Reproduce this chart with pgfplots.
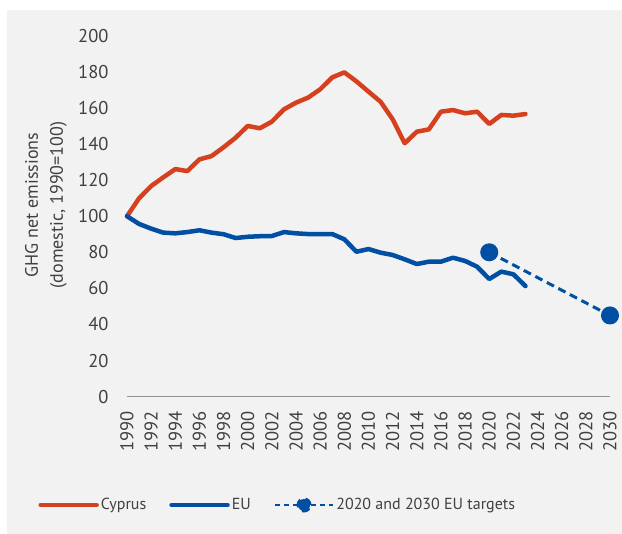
\documentclass[border=0pt]{standalone}
\usepackage{pgfplots}
\pgfplotsset{compat=1.18}
\usepackage{fontspec}
\setmainfont{PT Sans}
\definecolor{cyred}{RGB}{213,65,30}
\definecolor{eublue}{RGB}{0,79,163}
\definecolor{bgg}{RGB}{242,242,242}
\definecolor{txt}{RGB}{64,64,64}
\begin{document}
\begin{tikzpicture}[x=1pt,y=1pt]
\useasboundingbox (0,0) rectangle (622,534);
\fill[bgg] (7,0) rectangle (622,524);
\begin{axis}[
  at={(127pt,137.3pt)}, anchor=origin,
  scale only axis, width=483pt, height=361pt,
  xmin=1990, xmax=2030, ymin=0, ymax=200,
  xtick={1990,1992,...,2030}, ytick={0,20,...,200},
  axis x line*=bottom, axis y line*=left,
  x axis line style={draw=gray!85, line width=1.6pt, -},
  y axis line style={draw=none, -},
  major tick length=0pt,
  xticklabel shift=11pt, yticklabel shift=15pt,
  xticklabel style={rotate=90, anchor=east, font=\fontsize{18.5}{20}\selectfont, text=txt},
  yticklabel style={font=\fontsize{18.5}{20}\selectfont, text=txt},
  /pgf/number format/assume math mode=true,
  /pgf/number format/1000 sep={},
  clip=false,
  ylabel={GHG net emissions\\(domestic, 1990=100)},
  ylabel style={at={(axis description cs:-0.168,0.531)}, anchor=center, align=center, font=\fontsize{18}{25}\selectfont, text=txt},
  legend style={at={(axis description cs:-0.19,-0.30)}, anchor=west, draw=none, fill=none, font=\fontsize{16}{18}\selectfont, text=txt,
    legend columns=3, /tikz/every even column/.append style={column sep=21pt},
    nodes={inner xsep=2pt}},
  legend cell align=left,
]
\addplot[cyred, line width=4.5pt, line join=round, line cap=round,
  legend image code/.code={\draw[cyred, line width=4.5pt, line cap=round] (0pt,0pt) -- (56pt,0pt);}]
coordinates {
(1990,100)(1991,109.9)(1992,116.7)(1993,121.5)(1994,126.1)(1995,125.0)(1996,131.5)(1997,133.3)(1998,138.2)(1999,143.5)
(2000,150.0)(2001,148.7)(2002,152.4)(2003,159.2)(2004,162.9)(2005,165.7)(2006,170.3)(2007,176.9)(2008,179.7)(2009,174.7)
(2010,169.0)(2011,163.4)(2012,153.7)(2013,140.4)(2014,146.8)(2015,148.1)(2016,157.9)(2017,158.8)(2018,157.0)(2019,157.9)
(2020,151.1)(2021,156.1)(2022,155.7)(2023,156.6)
};
\addlegendentry{Cyprus}
\addplot[eublue, line width=4.5pt, line join=round, line cap=round,
  legend image code/.code={\draw[eublue, line width=4.5pt, line cap=round] (0pt,0pt) -- (56pt,0pt);}]
coordinates {
(1990,100)(1991,95.7)(1992,93.1)(1993,90.9)(1994,90.5)(1995,91.2)(1996,92.2)(1997,90.9)(1998,90.0)(1999,87.9)
(2000,88.6)(2001,88.9)(2002,89.0)(2003,91.2)(2004,90.5)(2005,90.1)(2006,90.1)(2007,90.1)(2008,87.2)(2009,80.3)
(2010,81.8)(2011,79.8)(2012,78.5)(2013,76.1)(2014,73.5)(2015,74.8)(2016,74.8)(2017,77.0)(2018,75.2)(2019,72.0)
(2020,65.2)(2021,69.3)(2022,67.8)(2023,61.3)
};
\addlegendentry{EU}
\addplot[eublue, line width=3pt, dash pattern=on 8pt off 5pt, mark=*, mark size=7.5pt, mark options={solid, fill=eublue, draw=none},
  legend image code/.code={\draw[eublue, line width=2.5pt, dash pattern=on 5pt off 4pt] (0pt,0pt) -- (58pt,0pt); \fill[eublue] (29pt,0pt) circle (6pt);}]
coordinates {(2020,80)(2030,45)};
\addlegendentry{2020 and 2030 EU targets}
\end{axis}
\end{tikzpicture}
\end{document}
